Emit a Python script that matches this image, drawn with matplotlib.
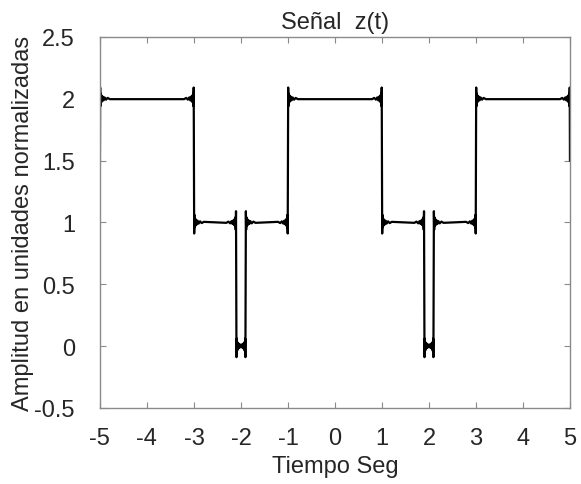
import matplotlib.pyplot as plt

plt.rcParams['font.family'] = ['Liberation Sans', 'DejaVu Sans']

# levels of z(t) between the jumps
t_edges = [-5, -3, -2.1, -1.9, -1, 1, 1.9, 2.1, 3, 5]
levels = [2, 1, 0, 1, 2, 1, 0, 1, 2]
level_before = 1   # level just left of t=-5 (periodic signal)
level_after = 1    # level just right of t=5

# Gibbs ringing next to each jump: distance from the jump (s)
# and overshoot as a fraction of the jump height
ring_dt = [0.005, 0.011, 0.018, 0.026, 0.036, 0.048, 0.062, 0.08, 0.1, 0.13, 0.165, 0.21]
ring_frac = [0.09, -0.06, 0.04, -0.03, 0.025, -0.02, 0.016, -0.013, 0.01, -0.008, 0.006, -0.004]

x_ticks = [-5, -4, -3, -2, -1, 0, 1, 2, 3, 4, 5]
y_ticks = [-0.5, 0, 0.5, 1, 1.5, 2, 2.5]

# build the curve vertex by vertex
t_pts, z_pts = [], []
n = len(levels)
for i in range(n):
    L = levels[i]
    prev = levels[i - 1] if i > 0 else level_before
    nxt = levels[i + 1] if i < n - 1 else level_after
    tl, tr = t_edges[i], t_edges[i + 1]
    half = (tr - tl) / 2
    t_pts.append(tl)
    z_pts.append((prev + L) / 2)
    for dt, f in zip(ring_dt, ring_frac):
        if dt < half:
            t_pts.append(tl + dt)
            z_pts.append(L + f * (L - prev))
    for dt, f in reversed(list(zip(ring_dt, ring_frac))):
        if dt < half:
            t_pts.append(tr - dt)
            z_pts.append(L - f * (nxt - L))
t_pts.append(t_edges[-1])
z_pts.append((levels[-1] + level_after) / 2)

fig = plt.figure(figsize=(5.81, 4.85), dpi=100)
ax = fig.add_axes([0.172, 0.157, 0.809, 0.765])
ax.plot(t_pts, z_pts, color='black', lw=1.6)

ax.set_xlim(-5, 5)
ax.set_ylim(-0.5, 2.5)
ax.set_xticks(x_ticks)
ax.set_xticklabels([str(v) for v in x_ticks])
ax.set_yticks(y_ticks)
ax.set_yticklabels(['-0.5', '0', '0.5', '1', '1.5', '2', '2.5'])

gray = '#8a8a8a'
for s in ax.spines.values():
    s.set_color(gray)
    s.set_linewidth(1.0)
ax.tick_params(direction='in', length=4, color=gray, labelsize=17,
               labelcolor='#262626', top=True, right=True)
ax.tick_params(axis='x', pad=14)
ax.tick_params(axis='y', pad=18)

ax.set_title('Señal  z(t)', fontsize=17, color='#262626', pad=6)
ax.set_xlabel('Tiempo Seg', fontsize=17, color='#262626', labelpad=4)
ax.set_ylabel('Amplitud en unidades normalizadas', fontsize=17, color='#262626', labelpad=0)

fig.savefig('out.png', dpi=100)
